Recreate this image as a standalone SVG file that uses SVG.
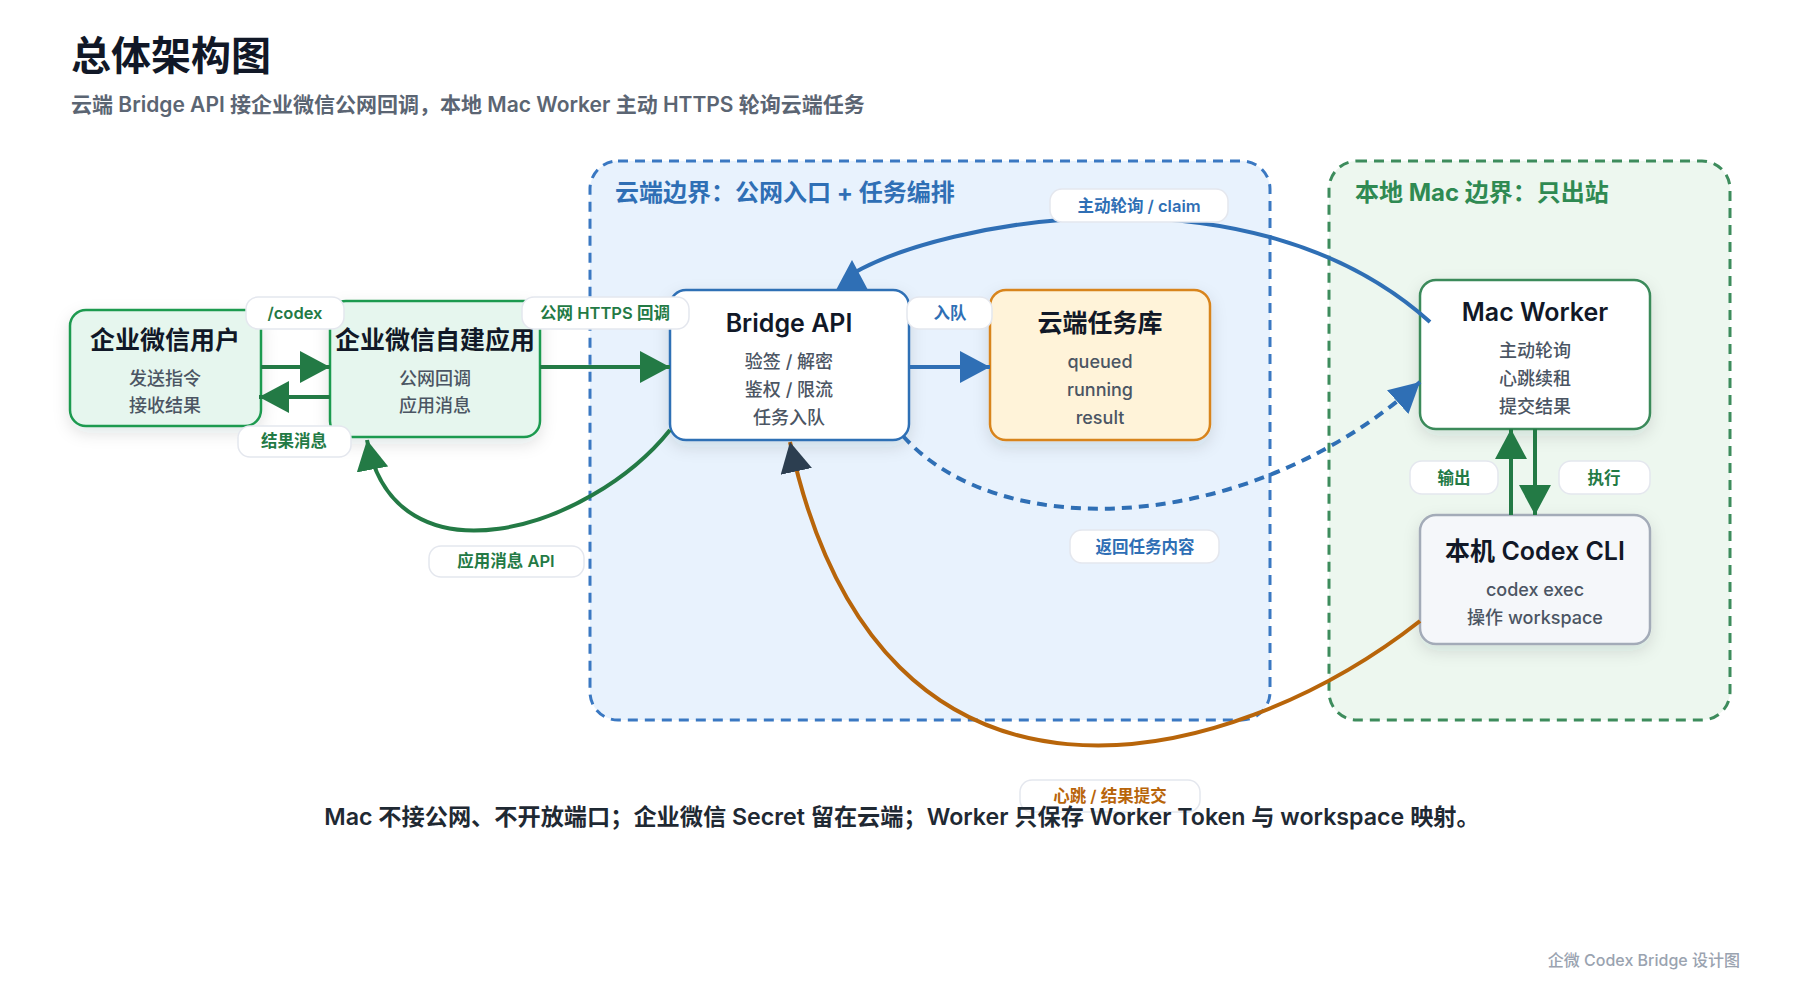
<svg xmlns="http://www.w3.org/2000/svg" width="1800" height="1000" viewBox="0 0 1800 1000">
<defs>
<style>
text{font-family:Inter,"Noto Sans CJK SC",sans-serif;}
.h1{font-size:40px;font-weight:700;fill:#111827;}
.sub{font-size:21px;font-weight:600;fill:#5b6573;}
.bl{font-size:24px;font-weight:700;}
.nt{font-size:25px;font-weight:600;fill:#111827;text-anchor:middle;dominant-baseline:central;}
.nl{font-size:18px;font-weight:500;fill:#4b5563;text-anchor:middle;dominant-baseline:central;}
.node{stroke-width:2.5;filter:url(#sh);}
.lb rect{fill:#ffffff;stroke:#e4e7ee;stroke-width:1.5;}
.lb text{font-size:16.5px;font-weight:600;text-anchor:middle;dominant-baseline:central;}
.g{fill:#237a45;}.b{fill:#2f6fb5;}.o{fill:#b8650a;}
.c{fill:none;stroke-width:4;}
.note{font-size:23.2px;font-weight:600;fill:#1f2933;text-anchor:middle;dominant-baseline:central;}
.foot{font-size:16px;font-weight:500;fill:#9aa3b0;text-anchor:end;dominant-baseline:central;}
</style>
<filter id="sh" x="-20%" y="-20%" width="140%" height="150%">
<feDropShadow dx="0" dy="6" stdDeviation="8" flood-color="#1f2937" flood-opacity="0.12"/>
</filter>
<marker id="ahG" markerUnits="userSpaceOnUse" viewBox="0 0 30 32" markerWidth="30" markerHeight="32" refX="30" refY="16" orient="auto"><path d="M0,0 L30,16 L0,32 z" fill="#237a45"/></marker>
<marker id="ahB" markerUnits="userSpaceOnUse" viewBox="0 0 30 32" markerWidth="30" markerHeight="32" refX="30" refY="16" orient="auto"><path d="M0,0 L30,16 L0,32 z" fill="#2f6fb5"/></marker>
<marker id="ahBs" markerUnits="userSpaceOnUse" viewBox="0 0 30 32" markerWidth="30" markerHeight="32" refX="0" refY="16" orient="auto"><path d="M0,0 L30,16 L0,32 z" fill="#2f6fb5"/></marker>
<marker id="ahD" markerUnits="userSpaceOnUse" viewBox="0 0 30 32" markerWidth="30" markerHeight="32" refX="30" refY="16" orient="auto"><path d="M0,0 L30,16 L0,32 z" fill="#2c3e50"/></marker>
</defs>
<rect width="1800" height="1000" fill="#ffffff"/>
<text class="h1" x="71" y="55" dominant-baseline="central">总体架构图</text>
<text class="sub" x="71" y="104" dominant-baseline="central">云端 Bridge API 接企业微信公网回调，本地 Mac Worker 主动 HTTPS 轮询云端任务</text>

<g id="cloud-boundary">
<rect x="590" y="161" width="680" height="559" rx="28" fill="#e8f2fd" stroke="#3a78c2" stroke-width="3" stroke-dasharray="10 7"/>
<text class="bl" x="615" y="192" dominant-baseline="central" fill="#2f6fb5">云端边界：公网入口 + 任务编排</text>
</g>
<g id="local-boundary">
<rect x="1329" y="161" width="401" height="559" rx="28" fill="#edf7ef" stroke="#3d8c5c" stroke-width="3" stroke-dasharray="10 7"/>
<text class="bl" x="1355" y="192" dominant-baseline="central" fill="#2f8a52">本地 Mac 边界：只出站</text>
</g>

<g id="node-user">
<rect class="node" x="70" y="310" width="191" height="116" rx="16" fill="#e6f6ee" stroke="#1f9a50"/>
<text class="nt" x="165" y="340">企业微信用户</text>
<text class="nl" x="165" y="378">发送指令</text>
<text class="nl" x="165" y="405">接收结果</text>
</g>
<g id="node-app">
<rect class="node" x="330" y="301" width="210" height="136" rx="16" fill="#e6f6ee" stroke="#1f9a50"/>
<text class="nt" x="435" y="340">企业微信自建应用</text>
<text class="nl" x="435" y="378">公网回调</text>
<text class="nl" x="435" y="405">应用消息</text>
</g>
<g id="node-bridge">
<rect class="node" x="670" y="290" width="239" height="150" rx="16" fill="#ffffff" stroke="#2f6fb5"/>
<text class="nt" x="789" y="323">Bridge API</text>
<text class="nl" x="789" y="361">验签 / 解密</text>
<text class="nl" x="789" y="389">鉴权 / 限流</text>
<text class="nl" x="789" y="417">任务入队</text>
</g>
<g id="node-taskdb">
<rect class="node" x="990" y="290" width="220" height="150" rx="16" fill="#fff3d9" stroke="#d8841c"/>
<text class="nt" x="1100" y="323">云端任务库</text>
<text class="nl" x="1100" y="361">queued</text>
<text class="nl" x="1100" y="389">running</text>
<text class="nl" x="1100" y="417">result</text>
</g>
<g id="node-worker">
<rect class="node" x="1420" y="280" width="230" height="149" rx="16" fill="#ffffff" stroke="#3a8a5a"/>
<text class="nt" x="1535" y="312">Mac Worker</text>
<text class="nl" x="1535" y="350">主动轮询</text>
<text class="nl" x="1535" y="378">心跳续租</text>
<text class="nl" x="1535" y="406">提交结果</text>
</g>
<g id="node-codex">
<rect class="node" x="1420" y="515" width="230" height="129" rx="16" fill="#f5f7fa" stroke="#a3abb8"/>
<text class="nt" x="1535" y="551">本机 Codex CLI</text>
<text class="nl" x="1535" y="589">codex exec</text>
<text class="nl" x="1535" y="617">操作 workspace</text>
</g>

<g id="connectors">
<path class="c" d="M261,367 L330,367" stroke="#237a45" marker-end="url(#ahG)"/>
<path class="c" d="M330,397 L259,397" stroke="#237a45" marker-end="url(#ahG)"/>
<path class="c" d="M540,367 L670,367" stroke="#237a45" marker-end="url(#ahG)"/>
<path class="c" d="M909,367 L990,367" stroke="#2f6fb5" marker-end="url(#ahB)"/>
<path class="c" d="M852,290 L852,274 C 940,222 1250,160 1430,322" stroke="#2f6fb5" marker-start="url(#ahBs)"/>
<path class="c" d="M903,436 C 1000,545 1250,535 1420,382" stroke="#2f6fb5" stroke-width="3.5" stroke-dasharray="10 7" marker-end="url(#ahB)"/>
<path class="c" d="M670,430 C 590,530 395,590 367,440" stroke="#237a45" stroke-width="3.5" marker-end="url(#ahG)"/>
<path class="c" d="M1420,621 C 1230,770 880,860 790,442" stroke="#b8650a" stroke-width="3.5" marker-end="url(#ahD)"/>
<path class="c" d="M1511,515 L1511,429" stroke="#237a45" marker-end="url(#ahG)"/>
<path class="c" d="M1535,429 L1535,515" stroke="#237a45" marker-end="url(#ahG)"/>
</g>

<g id="labels">
<g class="lb"><rect x="246" y="297" width="98" height="32" rx="12"/><text class="g" x="295" y="313">/codex</text></g>
<g class="lb"><rect x="238" y="426" width="113" height="31" rx="12"/><text class="g" x="294" y="441">结果消息</text></g>
<g class="lb"><rect x="522" y="297" width="167" height="32" rx="12"/><text class="g" x="605" y="313">公网 HTTPS 回调</text></g>
<g class="lb"><rect x="907" y="297" width="85" height="32" rx="12"/><text class="b" x="950" y="313">入队</text></g>
<g class="lb"><rect x="1050" y="189" width="178" height="33" rx="12"/><text class="b" x="1139" y="206">主动轮询 / claim</text></g>
<g class="lb"><rect x="1070" y="530" width="149" height="33" rx="12"/><text class="b" x="1145" y="547">返回任务内容</text></g>
<g class="lb"><rect x="429" y="546" width="155" height="31" rx="12"/><text class="g" x="506" y="561">应用消息 API</text></g>
<g class="lb"><rect x="1410" y="461" width="88" height="33" rx="12"/><text class="g" x="1454" y="478">输出</text></g>
<g class="lb"><rect x="1559" y="461" width="91" height="33" rx="12"/><text class="g" x="1604" y="478">执行</text></g>
<g class="lb"><rect x="1020" y="780" width="180" height="32" rx="12"/><text class="o" x="1110" y="796">心跳 / 结果提交</text></g>
</g>

<text class="note" x="902" y="817">Mac 不接公网、不开放端口；企业微信 Secret 留在云端；Worker 只保存 Worker Token 与 workspace 映射。</text>
<text class="foot" x="1740" y="960">企微 Codex Bridge 设计图</text>
</svg>
